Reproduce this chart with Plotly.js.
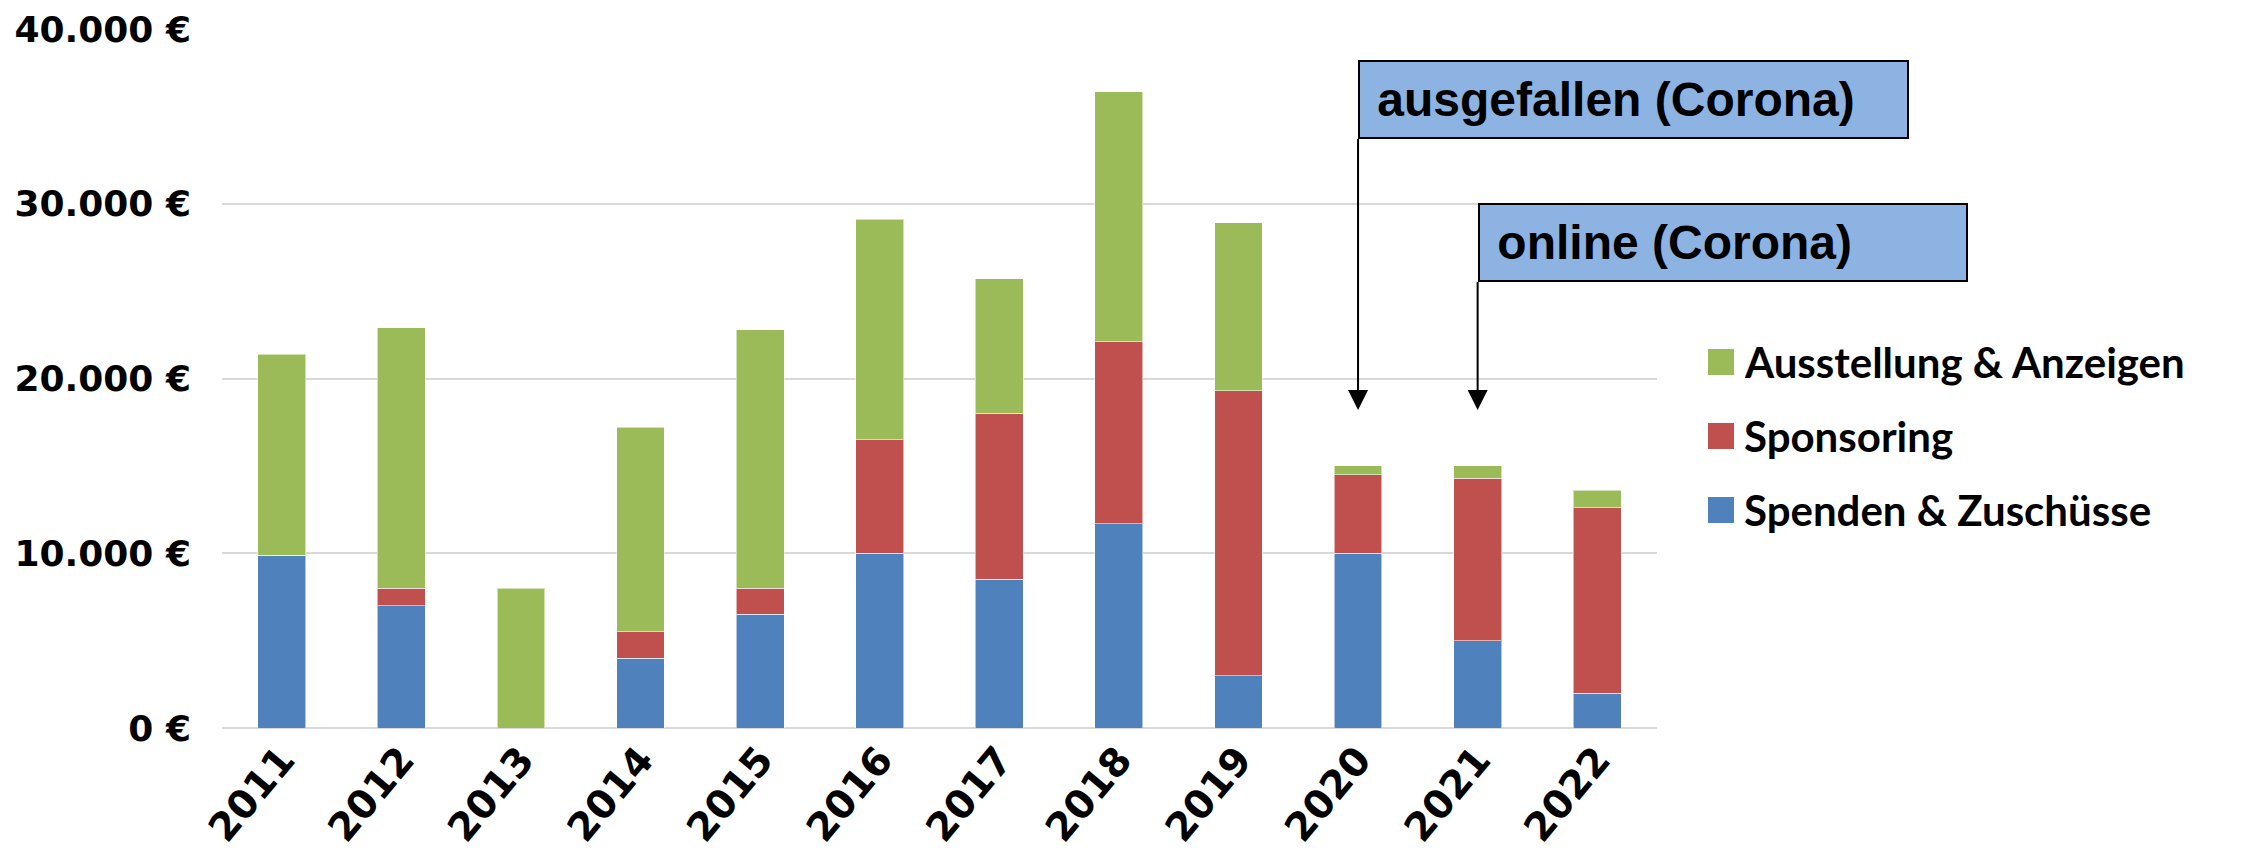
<!DOCTYPE html>
<html>
<head>
<meta charset="utf-8">
<script src="https://cdn.plot.ly/plotly-3.0.1.min.js"></script>
<style>html,body{margin:0;padding:0;background:#fff;}#chart{width:2242px;height:861px;}</style>
</head>
<body>
<div id="chart"></div>
<script>
const years = ['2011','2012','2013','2014','2015','2016','2017','2018','2019','2020','2021','2022'];
const spenden = [9900, 7000, 0, 4000, 6500, 10000, 8500, 11700, 3000, 10000, 5000, 2000];
const sponsoring = [0, 1000, 0, 1500, 1500, 6500, 9500, 10400, 16300, 4500, 9300, 10600];
const ausstellung = [11500, 14900, 8000, 11700, 14800, 12600, 7700, 14300, 9600, 500, 700, 1000];
const seriesNames = ['Spenden & Zuschüsse', 'Sponsoring', 'Ausstellung & Anzeigen'];
const seriesColors = ['#4F81BD', '#C0504D', '#9BBB59'];
const yTicks = [0, 10000, 20000, 30000, 40000];
const noteYears = ['2020', '2021'];
const noteTexts = ['ausgefallen (Corona)', 'online (Corona)'];
const noteTip = 18200;

function fmtEuro(v) {
  const s = String(Math.round(v));
  return s.replace(/\B(?=(\d{3})+(?!\d))/g, '.') + ' €';
}

const W = 2242, H = 861;
const M = {l: 222, r: 585, t: 29, b: 133};
const pw = W - M.l - M.r, ph = H - M.t - M.b;
const px2x = p => (p - M.l) / pw;
const px2y = p => (H - M.b - p) / ph;

const series = [spenden, sponsoring, ausstellung];
const traces = series.map((vals, i) => ({
  type: 'bar', x: years, y: vals, name: seriesNames[i],
  marker: {color: seriesColors[i], line: {color: 'rgba(255,255,255,0.55)', width: 1}},
  showlegend: false
}));

const boldArial = {family: 'Liberation Sans, Arial, sans-serif', size: 48, color: '#000', weight: 'bold'};
const annotations = [];
const noteAy = [-271, -128];
const noteW = [539, 478];
noteYears.forEach((yr, i) => {
  annotations.push({
    x: years.indexOf(yr), y: noteTip, xref: 'x', yref: 'y',
    text: '\u00a0' + noteTexts[i], showarrow: true,
    ax: 0, ay: noteAy[i], axref: 'pixel', ayref: 'pixel',
    xanchor: 'left', yanchor: 'bottom', align: 'left', valign: 'middle',
    width: noteW[i], height: 67,
    bgcolor: '#8DB3E2', bordercolor: '#000', borderwidth: 2, borderpad: 4,
    font: boldArial,
    arrowhead: 2, arrowsize: 2, arrowwidth: 2, arrowcolor: '#000', standoff: 0
  });
});

// custom legend (top to bottom: Ausstellung, Sponsoring, Spenden)
const legendRows = [362, 436, 510];
const shapes = [];
[2, 1, 0].forEach((si, r) => {
  const cy = legendRows[r];
  shapes.push({
    type: 'rect', xref: 'paper', yref: 'paper',
    x0: px2x(1708), x1: px2x(1734), y0: px2y(cy + 13), y1: px2y(cy - 13),
    fillcolor: seriesColors[si], line: {width: 0}
  });
  annotations.push({
    xref: 'paper', yref: 'paper', x: px2x(1742), y: px2y(cy),
    xanchor: 'left', yanchor: 'middle', showarrow: false,
    text: seriesNames[si],
    font: {family: 'Lato, sans-serif', size: 42, color: '#000', weight: 'bold'}
  });
});

const layout = {
  width: W, height: H,
  margin: M,
  paper_bgcolor: '#fff', plot_bgcolor: '#fff',
  barmode: 'stack', bargap: 0.6,
  showlegend: false,
  xaxis: {
    type: 'category', range: [-0.5, years.length - 0.5],
    showgrid: false, showline: false, zeroline: false,
    tickangle: -50, ticks: '',
    tickfont: {family: 'DejaVu Sans, Verdana, sans-serif', size: 39, color: '#000', weight: 'bold'}
  },
  yaxis: {
    range: [0, 40000], tickmode: 'array', tickvals: yTicks, ticktext: yTicks.map(fmtEuro),
    showgrid: true, gridcolor: '#D9D9D9', gridwidth: 2,
    zeroline: true, zerolinecolor: '#D9D9D9', zerolinewidth: 2,
    showline: false, ticks: '', ticklabelstandoff: 30,
    tickfont: {family: 'DejaVu Sans, Verdana, sans-serif', size: 36, color: '#000', weight: 'bold'}
  },
  annotations: annotations,
  shapes: shapes
};

Plotly.newPlot('chart', traces, layout, {staticPlot: true, displayModeBar: false});
</script>
</body>
</html>
